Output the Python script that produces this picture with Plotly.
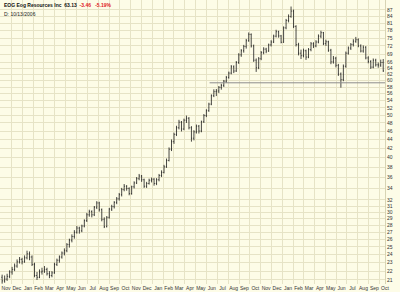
import math
import pandas as pd
import plotly.graph_objects as go

# ---------------- data (weekly bars, split-adjusted) ----------------
first_week = "2003-11-05"

open_ = [21.3, 20.9, 21.1, 21.4, 21.9, 22.2, 22.6, 23.1, 23.4,
         23.1, 23.6, 24.1, 23.7, 22.8, 21.5, 21.3, 21.9, 22.0, 22.2, 21.7, 21.5, 21.8,
         22.8, 23.3, 23.7, 24.2, 24.5, 25.3, 25.9, 26.4, 27.0, 27.6, 27.2, 27.9, 28.7,
         29.6, 30.1, 29.6, 30.8, 31.5, 30.4, 28.9, 27.8, 29.2, 30.5, 30.9, 31.6, 32.2,
         32.9, 33.8, 34.4, 34.0, 33.1, 34.3, 35.0, 35.8, 36.3, 35.6, 34.4, 34.9, 35.5,
         35.7, 34.9, 35.6, 36.4, 37.0, 38.1, 39.4, 41.8, 43.5, 45.2, 46.8, 48.2, 46.5,
         48.7, 49.2, 46.8, 44.3, 45.8, 47.2, 46.0, 48.3, 49.9, 51.2, 53.0, 55.4, 56.6,
         56.8, 57.9, 58.5, 59.8, 61.0, 62.4, 64.5, 63.1, 66.0, 68.7, 70.2, 71.8, 74.0,
         76.5, 72.0, 66.8, 64.2, 67.3, 69.5, 70.8, 70.1, 72.4, 73.5, 75.8, 77.6, 75.9,
         73.4, 79.2, 82.3, 84.1, 86.5, 79.8, 72.5, 69.3, 68.4, 70.2, 67.9, 70.6, 72.8,
         72.0, 73.5, 75.8, 77.2, 72.9, 73.6, 70.4, 66.2, 67.5, 65.0, 62.1, 60.3, 64.7,
         69.3, 71.2, 72.5, 73.8, 74.4, 72.0, 70.1, 71.5, 67.6, 66.3, 64.4, 66.8, 65.2,
         65.1, 66.0]

high = [21.6, 21.5, 21.7, 22.1, 22.5, 22.9, 23.4, 23.7, 23.6,
        23.9, 24.5, 24.4, 23.9, 23.0, 21.9, 22.2, 22.4, 22.6, 22.4, 22.0, 22.0,
        23.0, 23.5, 23.9, 24.4, 24.8, 25.5, 26.1, 26.7, 27.3, 27.9, 27.8, 28.1, 28.9,
        29.9, 30.4, 30.3, 31.0, 31.8, 31.7, 30.6, 29.2, 29.4, 30.7, 31.2, 31.8, 32.5,
        33.2, 34.1, 34.8, 34.6, 34.2, 34.5, 35.3, 36.1, 36.7, 36.5, 35.8, 35.2, 35.8,
        36.0, 35.9, 35.9, 36.7, 37.4, 38.5, 39.8, 42.2, 44.0, 45.6, 47.3, 48.8, 48.5,
        49.1, 49.9, 49.5, 47.2, 46.2, 47.6, 47.5, 48.6, 50.3, 51.6, 53.4, 55.8, 57.3,
        57.4, 58.3, 59.0, 60.2, 61.5, 62.9, 65.1, 65.0, 66.5, 69.3, 70.8, 72.4, 74.7,
        77.3, 76.9, 72.5, 67.4, 67.9, 70.1, 71.5, 71.3, 72.9, 74.2, 76.4, 78.4, 78.0,
        76.3, 79.8, 83.0, 85.0, 88.6, 87.2, 80.3, 73.2, 70.6, 71.0, 70.6, 71.2, 73.5,
        73.4, 74.2, 76.5, 78.0, 77.5, 74.4, 74.0, 70.9, 68.3, 68.0, 65.5, 62.6, 65.3,
        69.9, 71.8, 73.1, 74.6, 75.5, 74.9, 72.6, 72.2, 71.9, 68.2, 66.8, 67.4, 67.3,
        66.0, 67.0, 67.2]

low = [20.6, 20.7, 20.9, 21.2, 21.6, 22.0, 22.4, 22.9, 22.8,
       23.0, 23.4, 23.3, 22.6, 21.3, 21.0, 21.2, 21.6, 21.8, 21.5, 21.2, 21.3,
       21.7, 22.6, 23.0, 23.5, 23.9, 24.3, 24.9, 25.6, 26.1, 26.8, 26.8, 27.0, 27.7,
       28.5, 29.3, 29.2, 29.4, 30.5, 30.1, 28.6, 27.6, 27.7, 29.0, 30.2, 30.6, 31.3,
       31.9, 32.6, 33.5, 33.6, 32.8, 32.9, 34.0, 34.8, 35.5, 35.2, 34.1, 34.1, 34.7,
       35.1, 34.5, 34.6, 35.3, 36.1, 36.8, 37.9, 39.2, 41.4, 43.0, 44.8, 46.4, 45.9,
       46.2, 48.0, 46.4, 43.5, 43.8, 45.4, 45.4, 45.7, 48.0, 49.5, 50.9, 52.7, 55.0,
       55.3, 56.2, 57.2, 58.0, 59.3, 60.6, 62.0, 62.4, 62.8, 65.5, 68.0, 69.5, 71.0,
       73.6, 71.4, 66.2, 62.8, 63.7, 66.8, 68.9, 69.3, 69.8, 71.8, 73.1, 75.3, 75.2,
       73.0, 73.2, 78.6, 81.5, 83.5, 79.1, 71.8, 68.5, 67.2, 67.8, 66.9, 67.5, 70.0,
       71.2, 71.5, 73.0, 75.0, 72.3, 72.0, 69.8, 65.4, 65.6, 64.3, 61.5, 57.8, 59.8,
       64.2, 68.8, 70.5, 71.8, 73.2, 71.5, 69.6, 69.5, 67.1, 65.7, 63.8, 64.0, 64.6,
       64.2, 64.5, 62.8]

close = [20.9, 21.1, 21.4, 21.9, 22.2, 22.6, 23.1, 23.4, 23.1,
         23.6, 24.1, 23.7, 22.8, 21.5, 21.3, 21.9, 22.0, 22.2, 21.7, 21.5, 21.8,
         22.8, 23.3, 23.7, 24.2, 24.5, 25.3, 25.9, 26.4, 27.0, 27.6, 27.2, 27.9, 28.7,
         29.6, 30.1, 29.6, 30.8, 31.5, 30.4, 28.9, 27.8, 29.2, 30.5, 30.9, 31.6, 32.2,
         32.9, 33.8, 34.4, 34.0, 33.1, 34.3, 35.0, 35.8, 36.3, 35.6, 34.4, 34.9, 35.5,
         35.7, 34.9, 35.6, 36.4, 37.0, 38.1, 39.4, 41.8, 43.5, 45.2, 46.8, 48.2, 46.5,
         48.7, 49.2, 46.8, 44.3, 45.8, 47.2, 46.0, 48.3, 49.9, 51.2, 53.0, 55.4, 56.6,
         56.8, 57.9, 58.5, 59.8, 61.0, 62.4, 64.5, 63.1, 66.0, 68.7, 70.2, 71.8, 74.0,
         76.5, 72.0, 66.8, 64.2, 67.3, 69.5, 70.8, 70.1, 72.4, 73.5, 75.8, 77.6, 75.9,
         73.4, 79.2, 82.3, 84.1, 86.5, 79.8, 72.5, 69.3, 68.4, 70.2, 67.9, 70.6, 72.8,
         72.0, 73.5, 75.8, 77.2, 72.9, 73.6, 70.4, 66.2, 67.5, 65.0, 62.1, 60.3, 64.7,
         69.3, 71.2, 72.5, 73.8, 74.4, 72.0, 70.1, 71.5, 67.6, 66.3, 64.4, 66.8, 65.2,
         65.1, 66.0, 63.13]

n = min(len(open_), len(high), len(low), len(close))
dates = pd.date_range(first_week, periods=n, freq="7D")

y_tick_values = [87, 84, 81, 78, 75, 72, 69, 66, 64, 62, 60, 58, 56, 54, 52, 50, 48,
                 46, 44, 42, 40, 38, 36, 34, 32, 31, 30, 29, 28, 27, 26, 25, 24, 23,
                 22, 21]

support_level = 59.3
support_start = "2005-06-10"
x_start, x_end = "2003-10-30", "2006-10-16"
y_low, y_high = 20.56, 91.7

title_main = "<b>EOG Eog Resources Inc</b>  <b>63.13</b>"
title_change = "<b>-3.46   -5.19%</b>"
title_date = "D: 10/13/2006"

# ---------------- figure ----------------
BG = "#FDFCE7"
GRID = "#E6E3C6"
FONT = "Liberation Sans, Arial, sans-serif"

fig = go.Figure()
fig.add_trace(go.Ohlc(
    x=dates[:n], open=open_[:n], high=high[:n], low=low[:n], close=close[:n],
    increasing=dict(line=dict(color="#1A1A1A", width=0.8)),
    decreasing=dict(line=dict(color="#1A1A1A", width=0.8)),
    tickwidth=0.3, hoverinfo="skip", showlegend=False,
))
fig.add_trace(go.Scatter(
    x=[support_start, x_end], y=[support_level, support_level], mode="lines",
    line=dict(color="#8C8C8C", width=1), hoverinfo="skip", showlegend=False,
))

fig.update_layout(
    width=400, height=292,
    margin=dict(l=0, r=15, t=0, b=8),
    paper_bgcolor=BG, plot_bgcolor=BG,
    font=dict(family=FONT, size=5, color="#333333"),
    showlegend=False,
    xaxis=dict(
        type="date", range=[x_start, x_end], rangeslider=dict(visible=False),
        dtick="M1", tick0="2003-11-01", tickformat="%b", ticklabelmode="period",
        tickangle=0,
        showgrid=True, gridcolor=GRID, gridwidth=1, ticks="", zeroline=False,
        tickfont=dict(size=5, color="#333333"), showline=False,
    ),
    yaxis=dict(
        type="log", side="right", range=[math.log10(y_low), math.log10(y_high)],
        tickmode="array", tickvals=y_tick_values,
        ticktext=[str(v) for v in y_tick_values],
        showgrid=True, gridcolor=GRID, gridwidth=1, ticks="", zeroline=False,
        tickfont=dict(size=5, color="#333333"), showline=True, linecolor="#D8D4B4",
    ),
)

fig.add_annotation(xref="paper", yref="paper", x=0.005, y=0.999, xanchor="left", yanchor="top",
                   text=title_main + "  <span style='color:#E0201B'>" + title_change + "</span>",
                   showarrow=False, font=dict(size=5, color="#111111", family=FONT))
fig.add_annotation(xref="paper", yref="paper", x=0.005, y=0.968, xanchor="left", yanchor="top",
                   text=title_date, showarrow=False,
                   font=dict(size=5, color="#222222", family=FONT))

fig.write_html("out.html")
